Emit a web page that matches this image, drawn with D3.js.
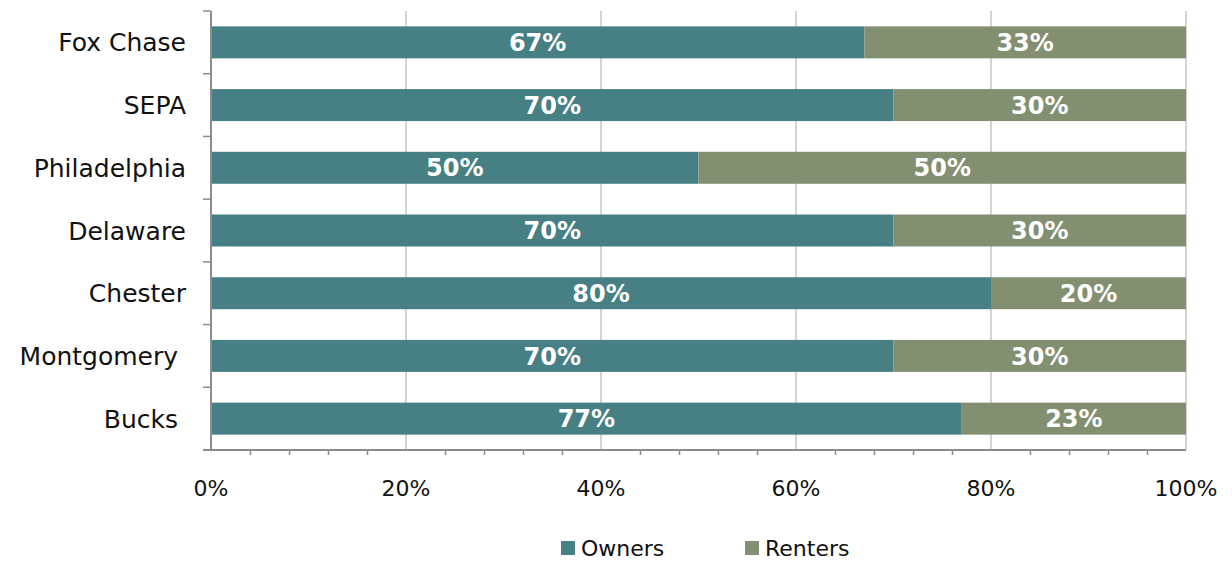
<!DOCTYPE html>
<html>
<head>
<meta charset="utf-8">
<script src="https://cdn.jsdelivr.net/npm/d3@7"></script>
<style>
  body { margin: 0; background: #fff; }
  svg text { font-family: "Century Gothic", "DejaVu Sans", sans-serif; }
</style>
</head>
<body>
<div id="chart"></div>
<script>
// data
var regions = ["Fox Chase", "SEPA", "Philadelphia", "Delaware", "Chester", "Montgomery ", "Bucks "];
var owners = [67, 70, 50, 70, 80, 70, 77];
var renters = [33, 30, 50, 30, 20, 30, 23];
var seriesNames = ["Owners", "Renters"];
var xTicks = [0, 20, 40, 60, 80, 100];

var w = 1232, h = 562;
var margin = {top: 11, right: 46, bottom: 112, left: 211};
var ownerColor = "#467f84";
var renterColor = "#838f71";
var axisGrey = "#8c8c8c";
var gridGrey = "#d4d4d4";

var svg = d3.select("#chart").append("svg").attr("width", w).attr("height", h);

var x = d3.scaleLinear().domain([0, 100]).range([margin.left, w - margin.right]);
var y = d3.scaleBand().domain(regions).range([margin.top, h - margin.bottom]).paddingInner(0.49).paddingOuter(0.245);

var rows = regions.map(function(r, i) {
    return {region: r, Owners: owners[i], Renters: renters[i]};
});
var stack = d3.stack().keys(seriesNames)(rows);
var color = d3.scaleOrdinal().domain(seriesNames).range([ownerColor, renterColor]);

// gridlines
svg.append("g").selectAll("line").data(xTicks.slice(1)).enter().append("line")
    .attr("x1", function(d) { return x(d); })
    .attr("x2", function(d) { return x(d); })
    .attr("y1", margin.top)
    .attr("y2", h - margin.bottom)
    .attr("stroke", gridGrey)
    .attr("stroke-width", 2);

// bars
var layers = svg.append("g").selectAll("g").data(stack).enter().append("g")
    .attr("fill", function(d) { return color(d.key); });
layers.selectAll("rect").data(function(d) { return d; }).enter().append("rect")
    .attr("x", function(d) { return x(d[0]); })
    .attr("width", function(d) { return x(d[1]) - x(d[0]); })
    .attr("y", function(d) { return y(d.data.region); })
    .attr("height", y.bandwidth());

// value labels
layers.selectAll("text").data(function(d) { return d; }).enter().append("text")
    .attr("x", function(d) { return (x(d[0]) + x(d[1])) / 2; })
    .attr("y", function(d) { return y(d.data.region) + y.bandwidth() / 2; })
    .attr("dy", "0.36em")
    .attr("text-anchor", "middle")
    .attr("fill", "white")
    .attr("font-weight", "bold")
    .attr("font-size", "24px")
    .text(function(d) { return (d[1] - d[0]) + "%"; });

// y axis: line with ticks on band edges
var yAxisG = svg.append("g");
yAxisG.append("line")
    .attr("x1", margin.left).attr("x2", margin.left)
    .attr("y1", margin.top).attr("y2", h - margin.bottom)
    .attr("stroke", axisGrey).attr("stroke-width", 2);
var step = y.step();
var edges = d3.range(regions.length + 1).map(function(i) { return margin.top + i * step; });
yAxisG.selectAll("line.tick").data(edges).enter().append("line")
    .attr("class", "tick")
    .attr("x1", margin.left - 8).attr("x2", margin.left)
    .attr("y1", function(d) { return d; }).attr("y2", function(d) { return d; })
    .attr("stroke", axisGrey).attr("stroke-width", 1.5);
yAxisG.selectAll("text").data(regions).enter().append("text")
    .attr("x", margin.left - 25)
    .attr("y", function(d) { return y(d) + y.bandwidth() / 2; })
    .attr("dy", "0.36em")
    .attr("text-anchor", "end")
    .style("white-space", "pre")
    .attr("font-size", "25px")
    .attr("fill", "#111")
    .text(function(d) { return d; });

// x axis
var xAxis = d3.axisBottom(x)
    .tickValues(d3.range(0, 101, 4))
    .tickSize(5)
    .tickFormat("");
var xAxisG = svg.append("g")
    .attr("transform", "translate(0," + (h - margin.bottom) + ")")
    .call(xAxis);
xAxisG.select(".domain").attr("stroke", axisGrey).attr("stroke-width", 2)
    .attr("d", "M" + (margin.left - 8) + ",0H" + (w - margin.right));
xAxisG.selectAll(".tick line").attr("stroke", axisGrey).attr("stroke-width", 1.5);
xAxisG.selectAll(".tick line").filter(function(d) { return d % 20 === 0; }).attr("y2", 0);

svg.append("g").selectAll("text").data(xTicks).enter().append("text")
    .attr("x", function(d) { return x(d); })
    .attr("y", h - margin.bottom + 46)
    .attr("text-anchor", "middle")
    .attr("font-size", "22px")
    .attr("fill", "#111")
    .text(function(d) { return d + "%"; });

// legend
var legendX = [561, 745];
var legend = svg.append("g").selectAll("g").data(seriesNames).enter().append("g")
    .attr("transform", function(d, i) { return "translate(" + legendX[i] + "," + 541 + ")"; });
legend.append("rect")
    .attr("width", 14).attr("height", 14)
    .attr("fill", function(d) { return color(d); });
legend.append("text")
    .attr("x", 20).attr("y", 7)
    .attr("dy", "0.36em")
    .attr("font-size", "22px")
    .attr("fill", "#111")
    .text(function(d) { return d; });
</script>
</body>
</html>
